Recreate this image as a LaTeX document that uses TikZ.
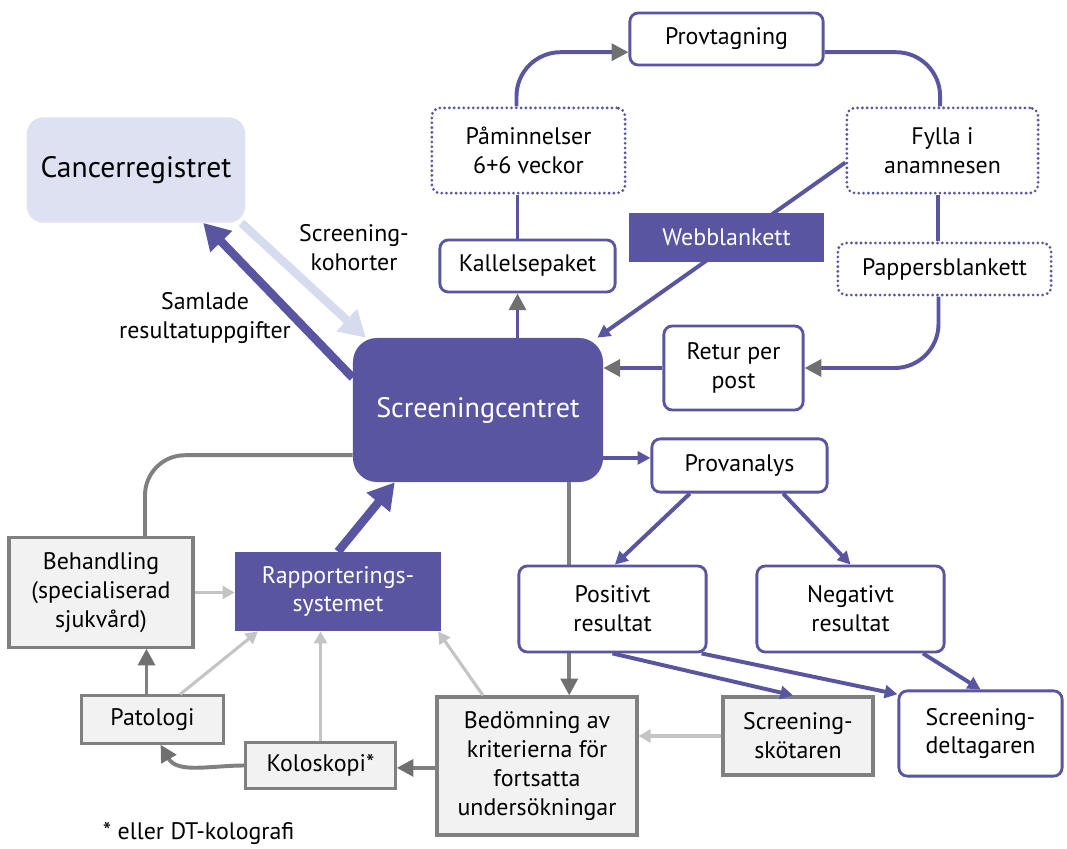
\documentclass[tikz,border=0pt]{standalone}
\usepackage{fontspec}
\setmainfont{PT Sans}
\usetikzlibrary{arrows.meta, positioning}

\definecolor{lila}{RGB}{89,85,160}
\definecolor{ljuslila}{RGB}{221,225,241}
\definecolor{ljusbla}{RGB}{214,219,238}
\definecolor{spets}{RGB}{112,112,112}
\definecolor{gralinje}{RGB}{128,128,128}
\definecolor{ljusgra}{RGB}{196,196,196}
\definecolor{grabg}{RGB}{242,242,242}

\begin{document}
\begin{tikzpicture}[x=0.025cm, y=-0.025cm,
	every node/.style={font=\fontsize{17}{20.5}\selectfont},
	lilabox/.style={rectangle, draw=lila, line width=2pt, rounded corners=6pt, fill=white, align=center, inner sep=0pt},
	prickbox/.style={lilabox, dash pattern=on 0pt off 3.4pt, line cap=round, line width=2.2pt},
	grabox/.style={rectangle, draw=gralinje, line width=2.2pt, fill=grabg, align=center, inner sep=0pt},
	fylldbox/.style={rectangle, fill=lila, text=white, align=center, inner sep=0pt},
	slinga/.style={draw=lila, line width=2.8pt, rounded corners=1.1cm},
	slingpil/.style={slinga, -{Triangle[length=0.42cm, width=0.42cm, color=spets]}},
	lilapil/.style={draw=lila, line width=2.8pt, -{Triangle[length=0.32cm, width=0.32cm]}},
	tjockpil/.style={line width=6pt, -{Triangle[length=0.65cm, width=0.72cm]}},
	grapil/.style={draw=gralinje, line width=2.8pt, -{Triangle[length=0.42cm, width=0.42cm, color=spets]}},
	ljuspil/.style={draw=ljusgra, line width=2.2pt, -{Triangle[length=0.3cm, width=0.32cm]}}]

	\useasboundingbox (0,0) rectangle (1067,849);

	\node[rectangle, fill=ljuslila, rounded corners=0.4cm, minimum width=5.45cm, minimum height=2.63cm, font=\fontsize{21}{25}\selectfont] (cancer) at (136,170) {Cancerregistret};
	\node[rectangle, fill=lila, text=white, rounded corners=0.6cm, minimum width=6.25cm, minimum height=3.6cm, font=\fontsize{20}{24}\selectfont] (sc) at (478,410) {Screeningcentret};

	\node[lilabox, minimum width=4.83cm, minimum height=1.3cm] (provt) at (726.5,39) {Provtagning};
	\node[prickbox, minimum width=4.83cm, minimum height=2.13cm] (pamin) at (528.5,150.5) {Påminnelser\\6+6 veckor};
	\node[prickbox, minimum width=4.78cm, minimum height=2.13cm] (fylla) at (942.5,150.5) {Fylla i\\anamnesen};
	\node[lilabox, minimum width=4.38cm, minimum height=1.3cm] (kallelse) at (527.5,266) {Kallelsepaket};
	\node[prickbox, minimum width=5.33cm, minimum height=1.3cm] (pappers) at (944.5,269) {Pappersblankett};
	\node[lilabox, minimum width=3.48cm, minimum height=2.1cm] (retur) at (733.5,368) {Retur per\\post};
	\node[lilabox, minimum width=4.38cm, minimum height=1.33cm] (provanalys) at (739.5,465.5) {Provanalys};
	\node[lilabox, minimum width=4.68cm, minimum height=2.15cm] (neg) at (850.5,609) {Negativt\\resultat};
	\node[lilabox, minimum width=4.08cm, minimum height=2.13cm] (delt) at (980.5,733.5) {Screening-\\deltagaren};

	\node[grabox, minimum width=4.6cm, minimum height=2.73cm] (beh) at (101,592.5) {Behandling\\(specialiserad\\sjukvård)};
	\node[fylldbox, minimum width=5.15cm, minimum height=1.98cm] (rap) at (338,591.5) {Rapporterings-\\systemet};
	\node[grabox, minimum width=3.53cm, minimum height=1.18cm] (pat) at (152.5,719.5) {Patologi};
	\node[grabox, minimum width=3.73cm, minimum height=1.13cm] (kolo) at (320.5,765.5) {Koloskopi*};
	\node[grabox, minimum width=5cm, minimum height=3.45cm] (bed) at (537,766) {Bedömning av\\kriterierna för\\fortsatta\\undersökningar};
	\node[grabox, minimum width=3.75cm, minimum height=1.95cm] (skot) at (798,736) {Screening-\\skötaren};

	% linjer som gar bakom rutor
	\draw[lilapil] ([yshift=-0.3cm]fylla.west) -- ([xshift=-0.15cm]sc.north east);
	\draw[grapil] ([xshift=2.28cm]sc.south) -- ([xshift=2.28cm]sc.south |- bed.north);

	\node[fylldbox, minimum width=4.88cm, minimum height=1.23cm] (webb) at (726.5,237.5) {Webblankett};
	\node[lilabox, minimum width=4.68cm, minimum height=2.15cm] (pos) at (612.5,609) {Positivt\\resultat};

	\node[align=center] (kohort) at (354,248) {Screening-\\kohorter};
	\node[align=center] (samlade) at (205,318) {Samlade\\resultatuppgifter};
	\node[anchor=west] (fotnot) at (98,833) {* eller DT-kolografi};

	% registret
	\draw[tjockpil, draw=lila, color=lila] ([yshift=-1cm]sc.north west) -- ([xshift=1.68cm]cancer.south);
	\draw[tjockpil, draw=ljusbla, color=ljusbla] ([xshift=-0.1cm]cancer.south east) -- ([xshift=0.33cm]sc.north west);

	% utskicksslingan
	\draw[slingpil] ([xshift=-0.25cm]kallelse.south |- sc.north) -- ([xshift=-0.25cm]kallelse.south);
	\draw[slinga] ([xshift=-0.25cm]kallelse.north) -- ([xshift=-0.25cm]kallelse.north |- pamin.south);
	\draw[slingpil] ([xshift=-0.3cm]pamin.north) |- ([yshift=-0.33cm]provt.west);
	\draw[slinga] ([yshift=-0.33cm]provt.east) -| ([xshift=-0.06cm]fylla.north);
	\draw[slinga] ([xshift=-0.11cm]fylla.south) -- ([xshift=-0.11cm]fylla.south |- pappers.north);
	\draw[slingpil] ([xshift=-0.15cm]pappers.south) |- (retur.east);
	\draw[slingpil] (retur.west) -- (retur.west -| sc.east);

	% provsvar
	\draw[lilapil] ([yshift=0.19cm]provanalys.west -| sc.east) -- ([yshift=0.19cm]provanalys.west);
	\draw[lilapil] ([xshift=-1.24cm]provanalys.south) -- ([xshift=0.06cm]pos.north);
	\draw[lilapil] ([xshift=1.09cm]provanalys.south) -- (neg.north);
	\draw[lilapil] (pos.south) -- ([xshift=-0.12cm]skot.north);
	\draw[lilapil] ([xshift=-0.15cm]pos.south east) -- ([yshift=-0.12cm]delt.north west);
	\draw[lilapil] ([xshift=1.81cm]neg.south) -- (delt.north);

	% utredning
	\draw[ljuspil] (skot.west) -- (skot.west -| bed.east);
	\draw[grapil] ([yshift=-0.06cm]kolo.east -| bed.west) -- ([yshift=-0.06cm]kolo.east);
	\draw[grapil] (kolo.west) to[out=180, in=-60] ([xshift=0.2cm]pat.south);
	\draw[grapil] ([xshift=-0.15cm]pat.north) -- ([xshift=-0.15cm]pat.north |- beh.south);
	\draw[draw=gralinje, line width=2.8pt, rounded corners=1cm] ([xshift=1.1cm]beh.north) |- ([yshift=-1.13cm]sc.west);

	% rapportering
	\draw[ljuspil] (beh.east) -- (beh.east -| rap.west);
	\draw[ljuspil] ([xshift=0.69cm]pat.north) -- ([xshift=0.58cm]rap.south west);
	\draw[ljuspil] (kolo.north) -- (kolo.north |- rap.south);
	\draw[ljuspil] ([xshift=-1.35cm]bed.north) -- ([xshift=-0.08cm]rap.south east);
	\draw[tjockpil, draw=lila, color=lila] (rap.north) -- ([xshift=-2.08cm]sc.south);

\end{tikzpicture}
\end{document}
